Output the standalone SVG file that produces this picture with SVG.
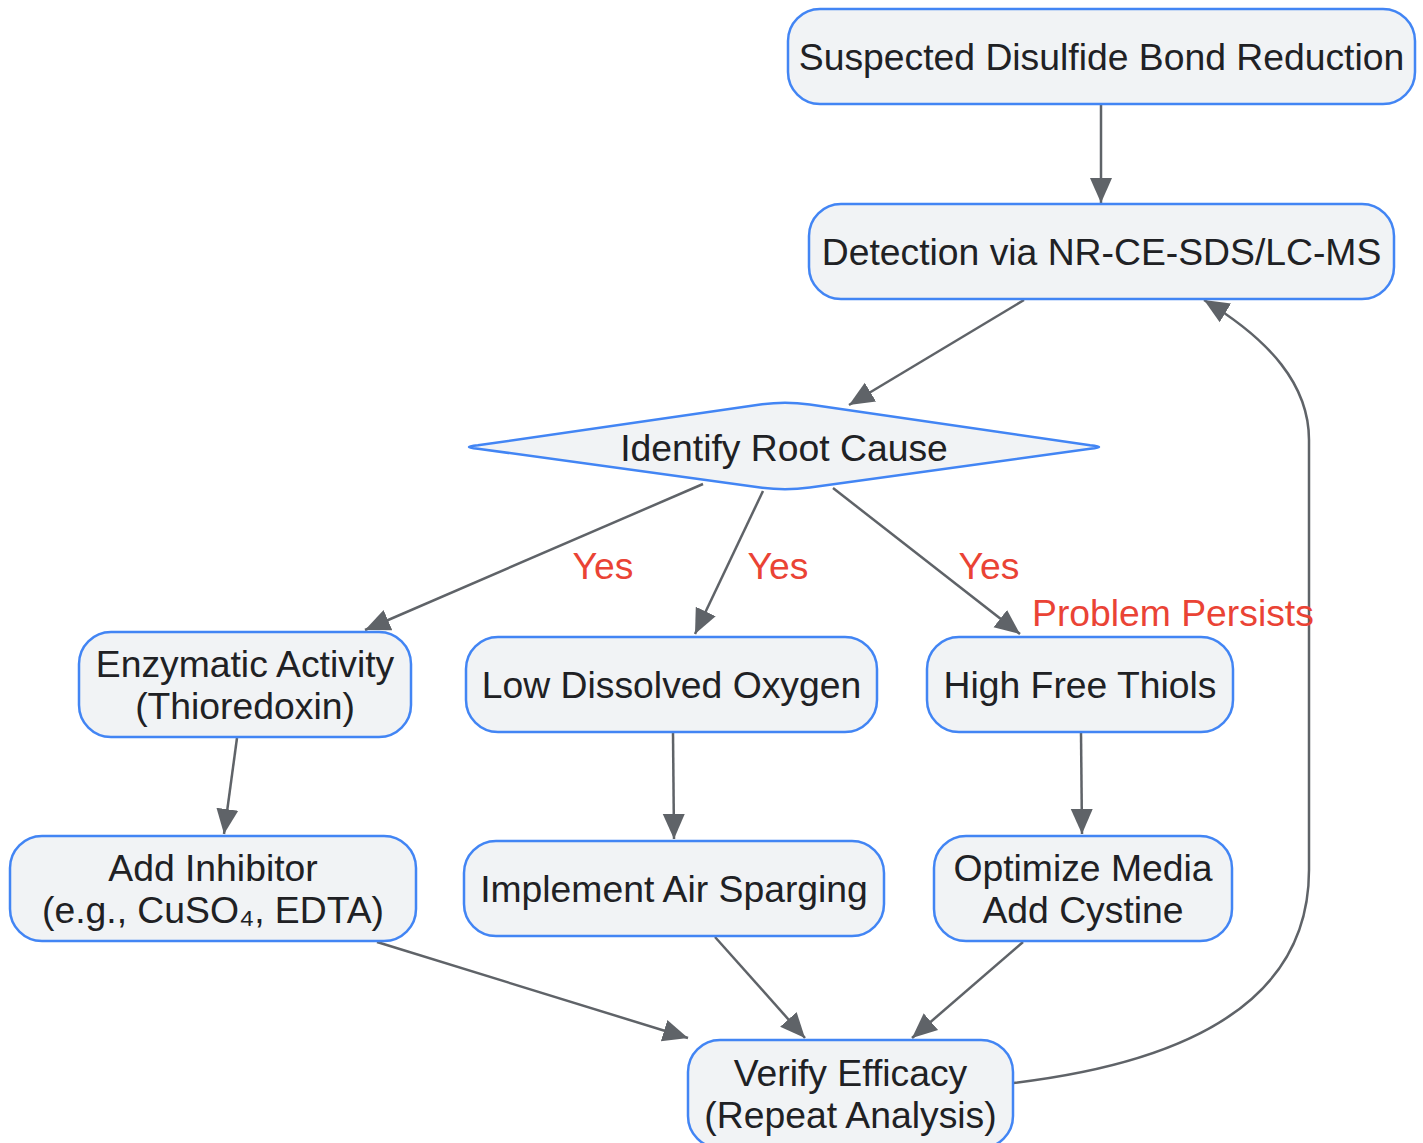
<svg xmlns="http://www.w3.org/2000/svg" width="1423" height="1143" viewBox="0 0 1423 1143">
<style>
.box{fill:#f1f3f5;stroke:#4285f4;stroke-width:2.5}
.t{font-family:"Liberation Sans",Arial,sans-serif;font-size:37.3px;fill:#202124;text-anchor:middle}
.lbl{font-family:"Liberation Sans",Arial,sans-serif;font-size:37.3px;fill:#ea4335}
.e{fill:none;stroke:#5f6368;stroke-width:2.5}
</style>
<defs>
<marker id="arr" markerUnits="userSpaceOnUse" markerWidth="26" markerHeight="26" viewBox="0 0 26 26" refX="25" refY="13" orient="auto">
<path d="M0,2 L25,13 L0,24 Z" fill="#5f6368"/>
</marker>
</defs>
<rect width="1423" height="1143" fill="#ffffff"/>
<g id="connectors">
<path class="e" marker-end="url(#arr)" d="M1101,104 L1101,203"/>
<path class="e" marker-end="url(#arr)" d="M1024,300 L849,405"/>
<path class="e" marker-end="url(#arr)" d="M703,484 L365,630"/>
<path class="e" marker-end="url(#arr)" d="M763,491 L695,634"/>
<path class="e" marker-end="url(#arr)" d="M833,488 L1020,634"/>
<path class="e" marker-end="url(#arr)" d="M237,738 L224,834"/>
<path class="e" marker-end="url(#arr)" d="M673,733 L674,839"/>
<path class="e" marker-end="url(#arr)" d="M1081,733 L1082,834"/>
<path class="e" marker-end="url(#arr)" d="M377,942 L688,1038"/>
<path class="e" marker-end="url(#arr)" d="M715,937 L805,1038"/>
<path class="e" marker-end="url(#arr)" d="M1023,942 L912,1038"/>
<path class="e" marker-end="url(#arr)" d="M1013,1083 C1190,1062 1309,1000 1309,870 L1309,440 C1309,385 1270,340 1204,300"/>
<text class="lbl" x="603" y="579" text-anchor="middle">Yes</text>
<text class="lbl" x="778" y="579" text-anchor="middle">Yes</text>
<text class="lbl" x="989" y="579" text-anchor="middle">Yes</text>
<text class="lbl" x="1032" y="626">Problem Persists</text>
</g>
<g id="n1">
<rect class="box" x="788" y="9" width="627" height="95" rx="32"/>
<text class="t" x="1101.5" y="70">Suspected Disulfide Bond Reduction</text>
</g>
<g id="n2">
<rect class="box" x="809" y="204" width="585" height="95" rx="32"/>
<text class="t" x="1101.5" y="265">Detection via NR-CE-SDS/LC-MS</text>
</g>
<g id="n3">
<path class="box" d="M477.9,445.3 L760.3,404.6 Q785,401 809.7,404.6 L1090.1,445.3 Q1108,447 1090.1,448.7 L809.8,487.6 Q785,491 760.2,487.6 L477.9,448.7 Q460,447 477.9,445.3 Z"/>
<text class="t" x="784" y="461">Identify Root Cause</text>
</g>
<g id="n4">
<rect class="box" x="79" y="632" width="332" height="105" rx="32"/>
<text class="t" x="245" y="677">Enzymatic Activity</text>
<text class="t" x="245" y="719">(Thioredoxin)</text>
</g>
<g id="n5">
<rect class="box" x="466" y="637" width="411" height="95" rx="32"/>
<text class="t" x="671.5" y="698">Low Dissolved Oxygen</text>
</g>
<g id="n6">
<rect class="box" x="927" y="637" width="306" height="95" rx="32"/>
<text class="t" x="1080" y="698">High Free Thiols</text>
</g>
<g id="n7">
<rect class="box" x="10" y="836" width="406" height="105" rx="32"/>
<text class="t" x="213" y="881">Add Inhibitor</text>
<text class="t" x="213" y="923">(e.g., CuSO₄, EDTA)</text>
</g>
<g id="n8">
<rect class="box" x="464" y="841" width="420" height="95" rx="32"/>
<text class="t" x="674" y="902">Implement Air Sparging</text>
</g>
<g id="n9">
<rect class="box" x="934" y="836" width="298" height="105" rx="32"/>
<text class="t" x="1083" y="881">Optimize Media</text>
<text class="t" x="1083" y="923">Add Cystine</text>
</g>
<g id="n10">
<rect class="box" x="688" y="1040" width="325" height="108" rx="32"/>
<text class="t" x="850.5" y="1086">Verify Efficacy</text>
<text class="t" x="850.5" y="1128">(Repeat Analysis)</text>
</g>
</svg>
